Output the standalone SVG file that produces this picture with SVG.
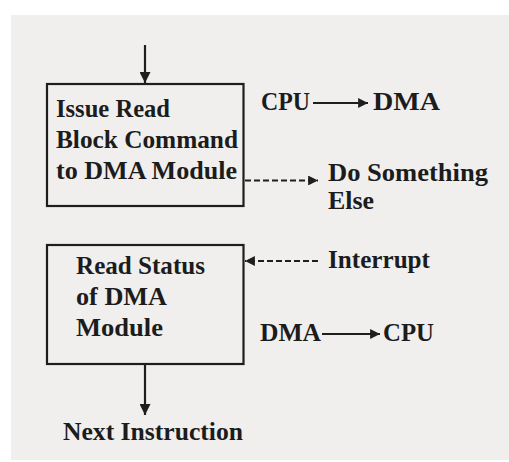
<svg xmlns="http://www.w3.org/2000/svg" width="509" height="462" viewBox="0 0 509 462">
  <style>
    .t { font-family: "Liberation Serif", "DejaVu Serif", serif; font-size: 25.5px; font-weight: bold; fill: #1c1c1c; }
    .box { fill: none; stroke: #1e1e1e; stroke-width: 2.2; }
    .ln { stroke: #1e1e1e; stroke-width: 2.2; fill: none; }
    .dash { stroke: #1e1e1e; stroke-width: 2.2; fill: none; stroke-dasharray: 6 3; }
  </style>
  <defs>
    <marker id="ah" viewBox="0 0 10 10" refX="10" refY="5" markerWidth="6" markerHeight="4.5" orient="auto" markerUnits="strokeWidth">
      <path d="M0,0 L10,5 L0,10 Z" fill="#1e1e1e"/>
    </marker>
    <marker id="ahv" viewBox="0 0 10 10" refX="10" refY="5" markerWidth="8" markerHeight="5" orient="auto" markerUnits="strokeWidth">
      <path d="M0,0 L10,5 L0,10 Z" fill="#1e1e1e"/>
    </marker>
  </defs>
  <rect x="0" y="0" width="509" height="462" fill="#ffffff"/>
  <rect x="11" y="15" width="498" height="445" fill="#f0efee"/>

  <g id="issue-read">
    <rect class="box" x="47" y="84" width="196.5" height="122"/>
    <text class="t" x="56" y="117" textLength="114" lengthAdjust="spacingAndGlyphs">Issue Read</text>
    <text class="t" x="56" y="148" textLength="182" lengthAdjust="spacingAndGlyphs">Block Command</text>
    <text class="t" x="56" y="179" textLength="181" lengthAdjust="spacingAndGlyphs">to DMA Module</text>
  </g>

  <g id="read-status">
    <rect class="box" x="47" y="245" width="196.5" height="119"/>
    <text class="t" x="76" y="274" textLength="129" lengthAdjust="spacingAndGlyphs">Read Status</text>
    <text class="t" x="76" y="305" textLength="91" lengthAdjust="spacingAndGlyphs">of DMA</text>
    <text class="t" x="76" y="336" textLength="87" lengthAdjust="spacingAndGlyphs">Module</text>
  </g>

  <g id="cpu-dma-label">
    <text class="t" x="261" y="110" textLength="49" lengthAdjust="spacingAndGlyphs">CPU</text>
    <text class="t" x="373" y="110" textLength="67" lengthAdjust="spacingAndGlyphs">DMA</text>
  </g>

  <g id="do-something">
    <text class="t" x="328" y="181" textLength="160" lengthAdjust="spacingAndGlyphs">Do Something</text>
    <text class="t" x="328" y="209" textLength="46" lengthAdjust="spacingAndGlyphs">Else</text>
  </g>

  <g id="interrupt">
    <text class="t" x="328" y="268" textLength="102" lengthAdjust="spacingAndGlyphs">Interrupt</text>
  </g>

  <g id="dma-cpu-label">
    <text class="t" x="260" y="341" textLength="61" lengthAdjust="spacingAndGlyphs">DMA</text>
    <text class="t" x="383" y="341" textLength="51" lengthAdjust="spacingAndGlyphs">CPU</text>
  </g>

  <g id="next-instruction">
    <text class="t" x="63" y="440" textLength="180" lengthAdjust="spacingAndGlyphs">Next Instruction</text>
  </g>

  <g id="connectors">
    <line class="ln" x1="145" y1="45" x2="145" y2="83" marker-end="url(#ahv)"/>
    <line class="ln" x1="145" y1="365" x2="145" y2="415" marker-end="url(#ahv)"/>
    <line class="ln" x1="313" y1="103" x2="368" y2="103" marker-end="url(#ah)"/>
    <line class="ln" x1="322" y1="334" x2="380" y2="334" marker-end="url(#ah)"/>
    <line class="dash" x1="245" y1="180.5" x2="318" y2="180.5" marker-end="url(#ah)"/>
    <line class="dash" x1="318" y1="261" x2="245" y2="261" marker-end="url(#ah)"/>
  </g>
</svg>
